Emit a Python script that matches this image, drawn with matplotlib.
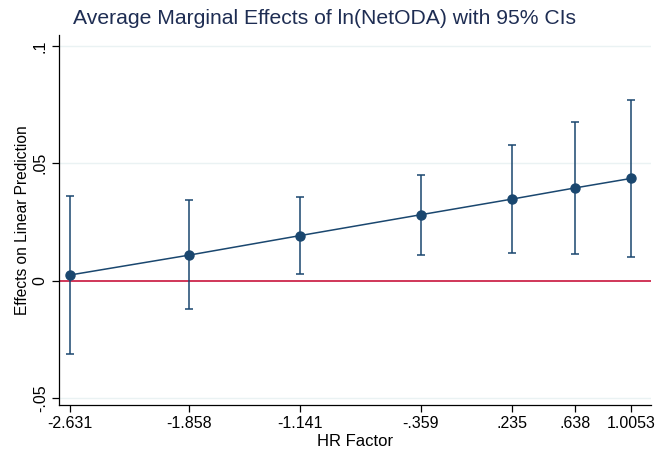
import numpy as np
import matplotlib
matplotlib.use('Agg')
import matplotlib.pyplot as plt

# HR Factor values and margins
hr_factor = [-2.631, -1.858, -1.141, -0.359, 0.235, 0.638, 1.0053]
tick_labels = ['-2.631', '-1.858', '-1.141', '-.359', '.235', '.638', '1.0053']
effect = [0.0024, 0.0109, 0.0192, 0.0281, 0.0348, 0.0395, 0.0436]
ci_low = [-0.0313, -0.0121, 0.0027, 0.0111, 0.0119, 0.0112, 0.0102]
ci_high = [0.0361, 0.0344, 0.0356, 0.0451, 0.0578, 0.0676, 0.0768]

plt.rcParams['font.family'] = ['Liberation Sans', 'DejaVu Sans']

navy = '#1a476f'

fig = plt.figure(figsize=(6.59, 4.49), dpi=100)
ax = fig.add_axes([0.0895, 0.098, 0.899, 0.824])

# grid lines like Stata
for y in [-0.05, 0.05, 0.1]:
    ax.axhline(y, color='#eaf2f3', lw=1.0, zorder=0)
ax.axhline(0, color='#c8143c', lw=1.2, zorder=1)

x = np.array(hr_factor)
y = np.array(effect)
yerr = [y - np.array(ci_low), np.array(ci_high) - y]
ax.errorbar(x, y, yerr=yerr, fmt='none', ecolor=navy, elinewidth=1.1,
            capsize=2.8, capthick=1.1, zorder=2)
ax.plot(x, y, color=navy, lw=1.1, marker='o', ms=6.5, zorder=3)

ax.set_xlim(-2.702, 1.135)
ax.set_ylim(-0.053, 0.1047)
ax.set_xticks(hr_factor)
ax.set_xticklabels(tick_labels)
ax.set_yticks([-0.05, 0, 0.05, 0.1])
ax.set_yticklabels(['-.05', '0', '.05', '.1'], rotation=90, va='center')

for s in ['top', 'right']:
    ax.spines[s].set_visible(False)
for s in ['left', 'bottom']:
    ax.spines[s].set_color('#000000')
    ax.spines[s].set_linewidth(0.9)
ax.tick_params(direction='out', length=5, width=0.9, labelsize=11.5, pad=3)

ax.set_xlabel('HR Factor', fontsize=12, labelpad=2)
ax.set_ylabel('Effects on Linear Prediction', fontsize=11.2, labelpad=2)

fig.text(0.493, 0.958, 'Average Marginal Effects of ln(NetODA) with 95% CIs',
         ha='center', va='center', fontsize=15.2, color='#1e2d53')

fig.savefig('out.png', dpi=100, facecolor='white')
